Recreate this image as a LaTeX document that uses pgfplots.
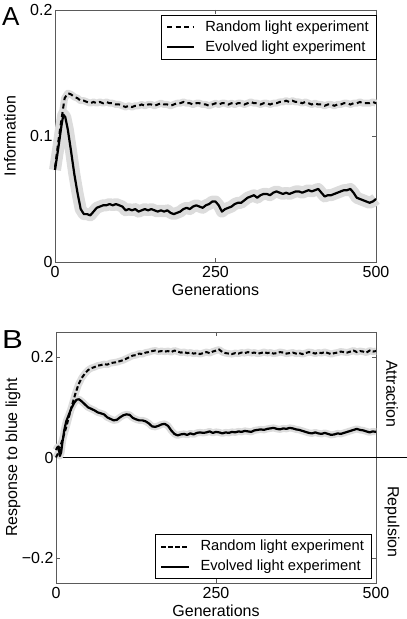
\documentclass[border=0pt]{standalone}
\usepackage{pgfplots}
\pgfplotsset{compat=1.18}
\usepackage{pgfplotstable}
\usepackage{fontspec}
\setmainfont{Liberation Sans}
\definecolor{bandgray}{RGB}{220,220,220}
\definecolor{axgray}{RGB}{90,90,90}

\pgfplotstableread{
x y
0 0.075
5 0.095
10 0.113
15 0.130
20 0.134
25 0.133
30 0.131
35 0.130
40 0.128
45 0.128
50 0.127
55 0.126
60 0.127
65 0.126
70 0.127
75 0.126
80 0.127
85 0.126
90 0.126
95 0.125
100 0.125
105 0.124
110 0.123
115 0.124
120 0.123
125 0.124
130 0.124
135 0.125
140 0.124
145 0.125
150 0.125
155 0.124
160 0.125
165 0.126
170 0.125
175 0.125
180 0.124
185 0.125
190 0.126
195 0.126
200 0.127
205 0.126
210 0.126
215 0.125
220 0.126
225 0.126
230 0.125
235 0.125
240 0.124
245 0.125
250 0.126
255 0.125
260 0.126
265 0.126
270 0.125
275 0.126
280 0.125
285 0.126
290 0.126
295 0.125
300 0.126
305 0.127
310 0.126
315 0.126
320 0.125
325 0.126
330 0.126
335 0.125
340 0.126
345 0.126
350 0.127
355 0.127
360 0.128
365 0.127
370 0.128
375 0.127
380 0.127
385 0.126
390 0.127
395 0.126
400 0.125
405 0.126
410 0.125
415 0.125
420 0.124
425 0.125
430 0.125
435 0.124
440 0.125
445 0.125
450 0.126
455 0.126
460 0.125
465 0.126
470 0.126
475 0.127
480 0.126
485 0.126
490 0.126
495 0.127
500 0.126
}\randA

\pgfplotstableread{
x y
0 0.073
5 0.090
10 0.108
13 0.117
16 0.115
20 0.105
25 0.088
30 0.070
35 0.055
40 0.042
45 0.038
50 0.038
55 0.037
60 0.040
65 0.043
70 0.044
75 0.045
80 0.045
85 0.046
90 0.045
95 0.046
100 0.045
105 0.044
110 0.041
115 0.042
120 0.041
125 0.042
130 0.040
135 0.041
140 0.042
145 0.041
150 0.042
155 0.041
160 0.040
165 0.041
170 0.040
175 0.041
180 0.039
185 0.038
190 0.039
195 0.040
200 0.042
205 0.043
210 0.042
215 0.044
220 0.045
225 0.044
230 0.043
235 0.045
240 0.046
245 0.048
250 0.048
255 0.045
260 0.040
265 0.042
270 0.043
275 0.044
280 0.046
285 0.047
290 0.047
295 0.049
300 0.051
305 0.052
310 0.053
315 0.051
320 0.053
325 0.054
330 0.054
335 0.053
340 0.055
345 0.056
350 0.055
355 0.054
360 0.055
365 0.054
370 0.055
375 0.056
380 0.056
385 0.055
390 0.056
395 0.057
400 0.056
405 0.057
410 0.058
415 0.055
420 0.052
425 0.053
430 0.053
435 0.054
440 0.055
445 0.056
450 0.057
455 0.057
460 0.058
465 0.055
470 0.051
475 0.050
480 0.049
485 0.048
490 0.047
495 0.048
500 0.050
}\evoA

\pgfplotstableread{
x y
0 0.000
3 0.008
6 0.020
10 0.035
15 0.056
20 0.080
25 0.104
30 0.126
35 0.145
40 0.158
45 0.167
50 0.174
55 0.178
60 0.180
65 0.183
70 0.184
75 0.186
80 0.185
85 0.188
90 0.189
95 0.190
100 0.192
105 0.194
110 0.197
115 0.200
120 0.203
125 0.204
130 0.207
135 0.206
140 0.209
145 0.210
150 0.212
155 0.213
160 0.211
165 0.212
170 0.211
175 0.212
180 0.210
185 0.213
190 0.211
195 0.209
200 0.210
205 0.208
210 0.209
215 0.207
220 0.208
225 0.206
230 0.208
235 0.210
240 0.208
245 0.211
250 0.213
255 0.215
260 0.210
265 0.208
270 0.207
275 0.206
280 0.208
285 0.207
290 0.209
295 0.208
300 0.210
305 0.208
310 0.209
315 0.207
320 0.208
325 0.210
330 0.208
335 0.209
340 0.207
345 0.208
350 0.210
355 0.209
360 0.207
365 0.208
370 0.209
375 0.207
380 0.208
385 0.206
390 0.208
395 0.210
400 0.209
405 0.207
410 0.209
415 0.208
420 0.210
425 0.208
430 0.206
435 0.208
440 0.209
445 0.211
450 0.210
455 0.209
460 0.211
465 0.213
470 0.210
475 0.212
480 0.211
485 0.209
490 0.213
495 0.211
500 0.212
}\randB

\pgfplotstableread{
x y
0 0.015
2 0.020
4 0.022
6 0.003
8 0.010
10 0.030
13 0.055
16 0.072
20 0.085
24 0.098
28 0.108
32 0.115
36 0.116
40 0.112
45 0.106
50 0.100
55 0.097
60 0.094
65 0.090
70 0.088
75 0.086
80 0.080
85 0.077
90 0.074
95 0.075
100 0.080
105 0.084
110 0.086
115 0.085
120 0.079
125 0.076
130 0.074
135 0.074
140 0.072
145 0.068
150 0.062
155 0.061
160 0.063
165 0.066
170 0.067
175 0.063
180 0.054
185 0.047
190 0.044
195 0.046
200 0.047
205 0.045
210 0.048
215 0.046
220 0.049
225 0.050
230 0.049
235 0.050
240 0.052
245 0.049
250 0.051
255 0.050
260 0.048
265 0.050
270 0.049
275 0.051
280 0.050
285 0.052
290 0.051
295 0.053
300 0.052
305 0.051
310 0.054
315 0.055
320 0.056
325 0.055
330 0.057
335 0.058
340 0.059
345 0.057
350 0.056
355 0.058
360 0.057
365 0.059
370 0.058
375 0.056
380 0.055
385 0.053
390 0.051
395 0.049
400 0.048
405 0.050
410 0.048
415 0.047
420 0.049
425 0.047
430 0.045
435 0.046
440 0.048
445 0.047
450 0.049
455 0.051
460 0.053
465 0.055
470 0.057
475 0.055
480 0.054
485 0.052
490 0.050
495 0.052
500 0.051
}\evoB

\begin{document}
\begin{tikzpicture}[font=\fontsize{16}{18}\selectfont]
\useasboundingbox (0,0) rectangle (407pt,619pt);
\pgfplotsset{
  panel/.style={
    scale only axis,
    width=321pt,
    xmin=0, xmax=500,
    xtick={0,250,500},
    tick align=inside,
    major tick length=4pt,
    axis line style={axgray, line width=0.7pt},
    every tick/.style={axgray, line width=0.6pt},
    tick label style={font=\fontsize{16}{18}\selectfont},
    xticklabel style={yshift=-1pt},
    yticklabel style={xshift=1pt},
    /pgf/number format/assume math mode=true,
    xlabel={Generations},
    every axis x label/.style={at={(rel axis cs:0.5,0)}, anchor=north,
      inner sep=0pt, yshift=-22pt, font=\fontsize{16}{18}\selectfont},
    every axis y label/.style={at={(rel axis cs:0,0.5)}, anchor=center,
      rotate=90, inner sep=0pt, font=\fontsize{16}{18}\selectfont},
    legend cell align=left,
    legend style={draw=black, line width=0.5pt, fill=white,
      font=\fontsize{14.7}{16}\selectfont, inner xsep=5pt, inner ysep=2.75pt,
      row sep=1.5pt, column sep=8pt,
      nodes={inner sep=2pt, text height=11pt, text depth=3.5pt}},
    clip=false,
  },
  band/.style={bandgray, line width=#1, line join=round, line cap=butt, forget plot},
  solidl/.style={black, line width=2.2pt, line join=round},
  dashl/.style={black, line width=2pt},
}
\begin{axis}[panel, at={(55pt,357pt)}, anchor=south west, height=252pt,
  ymin=0, ymax=0.2, ytick={0,0.1,0.2}, yticklabels={0,0.1,0.2},
  ylabel={Information}, ylabel style={yshift=45pt},
  legend style={at={(rel axis cs:1,0.98)}, anchor=north east},
  legend image code/.code={\draw[#1] (0pt,0pt) -- (27pt,0pt);}]
\addplot[band=7pt] table[x=x,y=y] {\randA};
\addplot[band=12pt] table[x=x,y=y] {\evoA};
\addplot[dashl, dash pattern=on 5pt off 3.5pt] table[x=x,y=y] {\randA};
\addlegendentry{Random light experiment}
\addplot[solidl] table[x=x,y=y] {\evoA};
\addlegendentry{Evolved light experiment}
\end{axis}

\begin{axis}[panel, at={(56pt,36pt)}, anchor=south west, height=251pt, width=320pt,
  ymin=-0.25, ymax=0.25, ytick={-0.2,0,0.2}, yticklabels={−0.2,0,0.2},
  ylabel={Response to blue light}, ylabel style={yshift=43pt},
  legend style={at={(rel axis cs:0.985,0.016)}, anchor=south east},
  legend image code/.code={\draw[#1] (0pt,0pt) -- (28pt,0pt);}]
\draw[black, line width=0.6pt] (rel axis cs:0,0.5) -- ([xshift=31pt]rel axis cs:1,0.5);
\addplot[band=7pt] table[x=x,y=y] {\randB};
\addplot[band=7pt] table[x=x,y=y] {\evoB};
\addplot[dashl, dash pattern=on 4.5pt off 2.5pt] table[x=x,y=y] {\randB};
\addlegendentry{Random light experiment}
\addplot[solidl] table[x=x,y=y] {\evoB};
\addlegendentry{Evolved light experiment}
\node[rotate=-90, anchor=center, font=\fontsize{16}{18}\selectfont] at ([xshift=16pt]rel axis cs:1,0.753) {Attraction};
\node[rotate=-90, anchor=center, font=\fontsize{16}{18}\selectfont] at ([xshift=16pt]rel axis cs:1,0.243) {Repulsion};
\end{axis}

\node[anchor=north west, inner sep=0pt, font=\fontsize{26}{28}\selectfont] at (2pt,612pt) {A};
\node[anchor=north west, inner sep=0pt, xscale=1.2, font=\fontsize{26}{28}\selectfont] at (2pt,289pt) {B};
\end{tikzpicture}
\end{document}
